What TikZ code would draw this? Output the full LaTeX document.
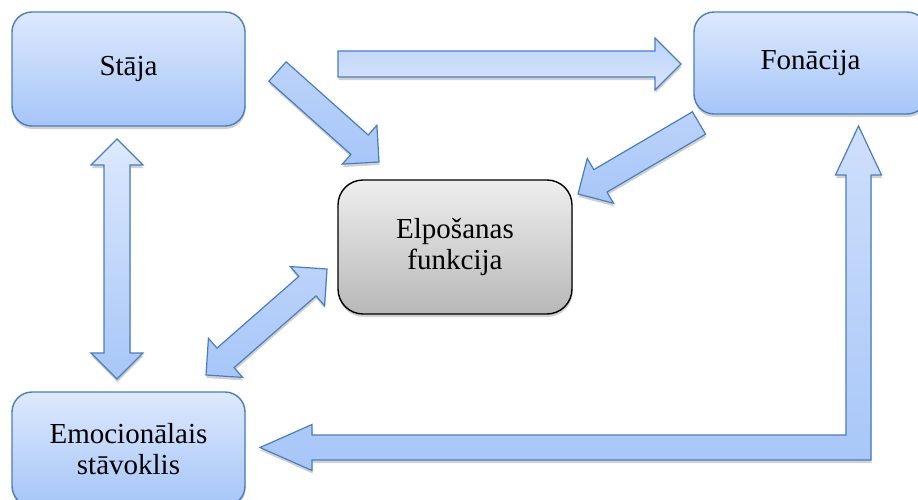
\documentclass[tikz,border=0pt]{standalone}
\usepackage{fontspec}
\setmainfont{Liberation Serif}
\usetikzlibrary{calc,shadows}
\definecolor{bTop}{HTML}{DDE9FD}
\definecolor{bBot}{HTML}{A6C5F8}
\definecolor{bBorder}{HTML}{4A7EBB}
\definecolor{gTop}{HTML}{EEEEEE}
\definecolor{gBot}{HTML}{B8B8B8}
\definecolor{aLight}{HTML}{D9E6FC}
\definecolor{aMid}{HTML}{BCD3FA}
\definecolor{aDark}{HTML}{A7C6F8}
\tikzset{
  softshadow/.style={drop shadow={shadow xshift=0.5pt, shadow yshift=-3pt, opacity=0.18, fill=black}},
  bluebox/.style={draw=bBorder, line width=1.4pt, rounded corners=20pt,
    top color=bTop, bottom color=bBot, minimum width=233pt, inner sep=0pt,
    align=center, font=\fontsize{29}{31.5}\selectfont, softshadow},
  graybox/.style={draw=black, line width=1.4pt, rounded corners=25pt,
    top color=gTop, bottom color=gBot, minimum width=234pt, minimum height=134pt,
    inner sep=0pt, align=center, font=\fontsize{29}{31.5}\selectfont, softshadow},
  arrowfill/.style={draw=bBorder, line width=1.2pt, line join=miter, softshadow},
}
\newcommand{\sArrow}[3][]{%
  \coordinate (hb) at ($(#3)!26pt!(#2)$);
  \path[arrowfill,#1] ($(#2)!13pt!90:(#3)$) -- ($(hb)!13pt!90:(#3)$) -- ($(hb)!26pt!90:(#3)$) -- (#3)
    -- ($(hb)!26pt!-90:(#3)$) -- ($(hb)!13pt!-90:(#3)$) -- ($(#2)!13pt!-90:(#3)$) -- cycle;
}
\newcommand{\dArrow}[3][]{%
  \coordinate (ha) at ($(#2)!26pt!(#3)$);
  \coordinate (hb) at ($(#3)!26pt!(#2)$);
  \path[arrowfill,#1] (#2) -- ($(ha)!26pt!90:(#3)$) -- ($(ha)!13pt!90:(#3)$) -- ($(hb)!13pt!-90:(#2)$)
    -- ($(hb)!26pt!-90:(#2)$) -- (#3) -- ($(hb)!26pt!90:(#2)$) -- ($(hb)!13pt!90:(#2)$)
    -- ($(ha)!13pt!-90:(#3)$) -- ($(ha)!26pt!-90:(#3)$) -- cycle;
}
\begin{document}
\begin{tikzpicture}[x=1pt,y=-1pt]
\useasboundingbox (0,0) rectangle (918,499);
\clip (0,0) rectangle (918,499);
% boxes
\node[bluebox, minimum height=114pt] (staja) at (128.5,69) {Stāja};
\node[bluebox, minimum height=102pt] (fon) at (810.5,63) {Fonācija};
\node[graybox] (elp) at (455,247) {Elpošanas\\funkcija};
\node[bluebox, minimum height=114pt] (emo) at (128.5,449) {Emocionālais\\stāvoklis};
% arrow end points
\coordinate (a1s) at (338,64);    \coordinate (a1e) at (681,64);
\coordinate (a2s) at (277.5,71.5);\coordinate (a2e) at (379,162);
\coordinate (a3s) at (699,123);   \coordinate (a3e) at (578,194);
\coordinate (a4s) at (117,139);   \coordinate (a4e) at (117,379);
\coordinate (a5s) at (327,269);   \coordinate (a5e) at (206,375);
\coordinate (Ltip) at (260,447.5);
\coordinate (Utip) at (858.5,126);
% arrows
\sArrow[top color=aMid, bottom color=aLight]{a1s}{a1e}
\sArrow[top color=aMid, bottom color=aDark]{a2s}{a2e}
\sArrow[top color=aMid, bottom color=aDark]{a3s}{a3e}
\dArrow[top color=bTop, bottom color=aDark]{a4s}{a4e}
\dArrow[top color=aMid, bottom color=aDark]{a5s}{a5e}
\path[arrowfill, top color=aLight!80!aDark, bottom color=aDark]
  (Ltip) -- ++(52,-23) -- ++(0,10.5) -- (846,435) -- (846,175) -- (835.5,175) -- (Utip)
  -- (881.5,175) -- (871,175) -- (871,460) -- (312,460) -- (312,470.5) -- cycle;
\end{tikzpicture}
\end{document}
